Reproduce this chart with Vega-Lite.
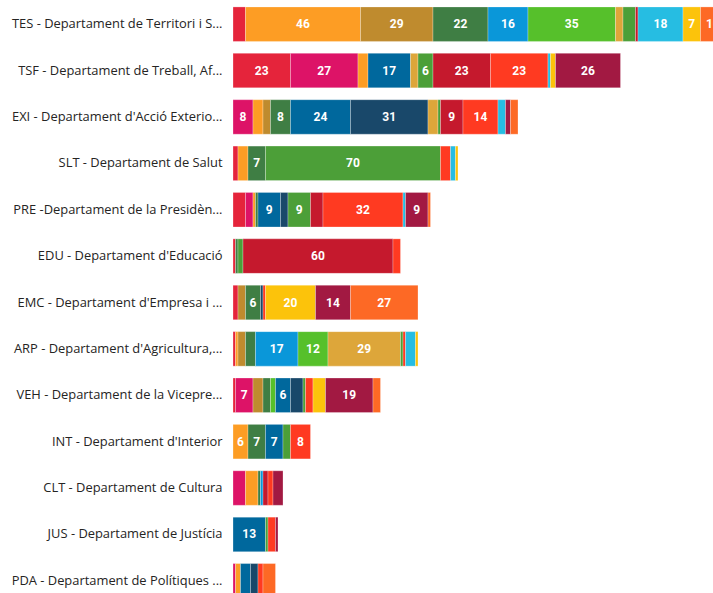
{
  "$schema": "https://vega.github.io/schema/vega-lite/v6.json",
  "autosize": "none",
  "padding": {"left": 233, "top": 1, "right": 0, "bottom": 0},
  "width": 480,
  "height": 603,
  "background": "white",
  "config": {"view": {"stroke": null}, "style": {"guide-label": {"ellipsis": "..."}}},
  "data": {"values": [
    {"dept": "TES - Departament de Territori i Sostenibilitat", "ods": "ODS 1", "n": 5},
    {"dept": "TES - Departament de Territori i Sostenibilitat", "ods": "ODS 11", "n": 46},
    {"dept": "TES - Departament de Territori i Sostenibilitat", "ods": "ODS 12", "n": 29},
    {"dept": "TES - Departament de Territori i Sostenibilitat", "ods": "ODS 13", "n": 22},
    {"dept": "TES - Departament de Territori i Sostenibilitat", "ods": "ODS 14", "n": 16},
    {"dept": "TES - Departament de Territori i Sostenibilitat", "ods": "ODS 15", "n": 35},
    {"dept": "TES - Departament de Territori i Sostenibilitat", "ods": "ODS 2", "n": 3},
    {"dept": "TES - Departament de Territori i Sostenibilitat", "ods": "ODS 3", "n": 5},
    {"dept": "TES - Departament de Territori i Sostenibilitat", "ods": "ODS 4", "n": 1},
    {"dept": "TES - Departament de Territori i Sostenibilitat", "ods": "ODS 6", "n": 18},
    {"dept": "TES - Departament de Territori i Sostenibilitat", "ods": "ODS 7", "n": 7},
    {"dept": "TES - Departament de Territori i Sostenibilitat", "ods": "ODS 9", "n": 10},

    {"dept": "TSF - Departament de Treball, Afers Socials i Famílies", "ods": "ODS 1", "n": 23},
    {"dept": "TSF - Departament de Treball, Afers Socials i Famílies", "ods": "ODS 10", "n": 27},
    {"dept": "TSF - Departament de Treball, Afers Socials i Famílies", "ods": "ODS 11", "n": 4},
    {"dept": "TSF - Departament de Treball, Afers Socials i Famílies", "ods": "ODS 16", "n": 17},
    {"dept": "TSF - Departament de Treball, Afers Socials i Famílies", "ods": "ODS 2", "n": 3},
    {"dept": "TSF - Departament de Treball, Afers Socials i Famílies", "ods": "ODS 3", "n": 6},
    {"dept": "TSF - Departament de Treball, Afers Socials i Famílies", "ods": "ODS 4", "n": 23},
    {"dept": "TSF - Departament de Treball, Afers Socials i Famílies", "ods": "ODS 5", "n": 23},
    {"dept": "TSF - Departament de Treball, Afers Socials i Famílies", "ods": "ODS 6", "n": 1},
    {"dept": "TSF - Departament de Treball, Afers Socials i Famílies", "ods": "ODS 7", "n": 2},
    {"dept": "TSF - Departament de Treball, Afers Socials i Famílies", "ods": "ODS 8", "n": 26},

    {"dept": "EXI - Departament d'Acció Exterior i Unió Europea", "ods": "ODS 10", "n": 8},
    {"dept": "EXI - Departament d'Acció Exterior i Unió Europea", "ods": "ODS 11", "n": 4},
    {"dept": "EXI - Departament d'Acció Exterior i Unió Europea", "ods": "ODS 12", "n": 3},
    {"dept": "EXI - Departament d'Acció Exterior i Unió Europea", "ods": "ODS 13", "n": 8},
    {"dept": "EXI - Departament d'Acció Exterior i Unió Europea", "ods": "ODS 16", "n": 24},
    {"dept": "EXI - Departament d'Acció Exterior i Unió Europea", "ods": "ODS 17", "n": 31},
    {"dept": "EXI - Departament d'Acció Exterior i Unió Europea", "ods": "ODS 2", "n": 4},
    {"dept": "EXI - Departament d'Acció Exterior i Unió Europea", "ods": "ODS 3", "n": 1},
    {"dept": "EXI - Departament d'Acció Exterior i Unió Europea", "ods": "ODS 4", "n": 9},
    {"dept": "EXI - Departament d'Acció Exterior i Unió Europea", "ods": "ODS 5", "n": 14},
    {"dept": "EXI - Departament d'Acció Exterior i Unió Europea", "ods": "ODS 6", "n": 3},
    {"dept": "EXI - Departament d'Acció Exterior i Unió Europea", "ods": "ODS 8", "n": 2},
    {"dept": "EXI - Departament d'Acció Exterior i Unió Europea", "ods": "ODS 9", "n": 3},

    {"dept": "SLT - Departament de Salut", "ods": "ODS 1", "n": 2},
    {"dept": "SLT - Departament de Salut", "ods": "ODS 11", "n": 4},
    {"dept": "SLT - Departament de Salut", "ods": "ODS 13", "n": 7},
    {"dept": "SLT - Departament de Salut", "ods": "ODS 3", "n": 70},
    {"dept": "SLT - Departament de Salut", "ods": "ODS 5", "n": 4},
    {"dept": "SLT - Departament de Salut", "ods": "ODS 6", "n": 2},
    {"dept": "SLT - Departament de Salut", "ods": "ODS 7", "n": 1},

    {"dept": "PRE -Departament de la Presidència", "ods": "ODS 1", "n": 5},
    {"dept": "PRE -Departament de la Presidència", "ods": "ODS 10", "n": 3},
    {"dept": "PRE -Departament de la Presidència", "ods": "ODS 11", "n": 1},
    {"dept": "PRE -Departament de la Presidència", "ods": "ODS 13", "n": 1},
    {"dept": "PRE -Departament de la Presidència", "ods": "ODS 16", "n": 9},
    {"dept": "PRE -Departament de la Presidència", "ods": "ODS 17", "n": 3},
    {"dept": "PRE -Departament de la Presidència", "ods": "ODS 3", "n": 9},
    {"dept": "PRE -Departament de la Presidència", "ods": "ODS 4", "n": 5},
    {"dept": "PRE -Departament de la Presidència", "ods": "ODS 5", "n": 32},
    {"dept": "PRE -Departament de la Presidència", "ods": "ODS 6", "n": 1},
    {"dept": "PRE -Departament de la Presidència", "ods": "ODS 8", "n": 9},
    {"dept": "PRE -Departament de la Presidència", "ods": "ODS 9", "n": 1},

    {"dept": "EDU - Departament d'Educació", "ods": "ODS 1", "n": 1},
    {"dept": "EDU - Departament d'Educació", "ods": "ODS 13", "n": 1},
    {"dept": "EDU - Departament d'Educació", "ods": "ODS 3", "n": 2},
    {"dept": "EDU - Departament d'Educació", "ods": "ODS 4", "n": 60},
    {"dept": "EDU - Departament d'Educació", "ods": "ODS 5", "n": 3},

    {"dept": "EMC - Departament d'Empresa i Coneixement", "ods": "ODS 1", "n": 2},
    {"dept": "EMC - Departament d'Empresa i Coneixement", "ods": "ODS 12", "n": 3},
    {"dept": "EMC - Departament d'Empresa i Coneixement", "ods": "ODS 13", "n": 6},
    {"dept": "EMC - Departament d'Empresa i Coneixement", "ods": "ODS 17", "n": 1},
    {"dept": "EMC - Departament d'Empresa i Coneixement", "ods": "ODS 5", "n": 1},
    {"dept": "EMC - Departament d'Empresa i Coneixement", "ods": "ODS 7", "n": 20},
    {"dept": "EMC - Departament d'Empresa i Coneixement", "ods": "ODS 8", "n": 14},
    {"dept": "EMC - Departament d'Empresa i Coneixement", "ods": "ODS 9", "n": 27},

    {"dept": "ARP - Departament d'Agricultura, Ramaderia, Pesca i Alimentació", "ods": "ODS 1", "n": 1},
    {"dept": "ARP - Departament d'Agricultura, Ramaderia, Pesca i Alimentació", "ods": "ODS 11", "n": 1},
    {"dept": "ARP - Departament d'Agricultura, Ramaderia, Pesca i Alimentació", "ods": "ODS 12", "n": 3},
    {"dept": "ARP - Departament d'Agricultura, Ramaderia, Pesca i Alimentació", "ods": "ODS 13", "n": 4},
    {"dept": "ARP - Departament d'Agricultura, Ramaderia, Pesca i Alimentació", "ods": "ODS 14", "n": 17},
    {"dept": "ARP - Departament d'Agricultura, Ramaderia, Pesca i Alimentació", "ods": "ODS 15", "n": 12},
    {"dept": "ARP - Departament d'Agricultura, Ramaderia, Pesca i Alimentació", "ods": "ODS 2", "n": 29},
    {"dept": "ARP - Departament d'Agricultura, Ramaderia, Pesca i Alimentació", "ods": "ODS 3", "n": 1},
    {"dept": "ARP - Departament d'Agricultura, Ramaderia, Pesca i Alimentació", "ods": "ODS 5", "n": 1},
    {"dept": "ARP - Departament d'Agricultura, Ramaderia, Pesca i Alimentació", "ods": "ODS 6", "n": 4},
    {"dept": "ARP - Departament d'Agricultura, Ramaderia, Pesca i Alimentació", "ods": "ODS 7", "n": 1},

    {"dept": "VEH - Departament de la Vicepresidència i d'Economia i Hisenda", "ods": "ODS 1", "n": 1},
    {"dept": "VEH - Departament de la Vicepresidència i d'Economia i Hisenda", "ods": "ODS 10", "n": 7},
    {"dept": "VEH - Departament de la Vicepresidència i d'Economia i Hisenda", "ods": "ODS 12", "n": 4},
    {"dept": "VEH - Departament de la Vicepresidència i d'Economia i Hisenda", "ods": "ODS 13", "n": 3},
    {"dept": "VEH - Departament de la Vicepresidència i d'Economia i Hisenda", "ods": "ODS 15", "n": 2},
    {"dept": "VEH - Departament de la Vicepresidència i d'Economia i Hisenda", "ods": "ODS 16", "n": 6},
    {"dept": "VEH - Departament de la Vicepresidència i d'Economia i Hisenda", "ods": "ODS 17", "n": 5},
    {"dept": "VEH - Departament de la Vicepresidència i d'Economia i Hisenda", "ods": "ODS 3", "n": 1},
    {"dept": "VEH - Departament de la Vicepresidència i d'Economia i Hisenda", "ods": "ODS 5", "n": 3},
    {"dept": "VEH - Departament de la Vicepresidència i d'Economia i Hisenda", "ods": "ODS 7", "n": 5},
    {"dept": "VEH - Departament de la Vicepresidència i d'Economia i Hisenda", "ods": "ODS 8", "n": 19},
    {"dept": "VEH - Departament de la Vicepresidència i d'Economia i Hisenda", "ods": "ODS 9", "n": 3},

    {"dept": "INT - Departament d'Interior", "ods": "ODS 11", "n": 6},
    {"dept": "INT - Departament d'Interior", "ods": "ODS 13", "n": 7},
    {"dept": "INT - Departament d'Interior", "ods": "ODS 16", "n": 7},
    {"dept": "INT - Departament d'Interior", "ods": "ODS 3", "n": 3},
    {"dept": "INT - Departament d'Interior", "ods": "ODS 5", "n": 8},

    {"dept": "CLT - Departament de Cultura", "ods": "ODS 10", "n": 5},
    {"dept": "CLT - Departament de Cultura", "ods": "ODS 11", "n": 5},
    {"dept": "CLT - Departament de Cultura", "ods": "ODS 13", "n": 1},
    {"dept": "CLT - Departament de Cultura", "ods": "ODS 14", "n": 1},
    {"dept": "CLT - Departament de Cultura", "ods": "ODS 4", "n": 2},
    {"dept": "CLT - Departament de Cultura", "ods": "ODS 5", "n": 2},
    {"dept": "CLT - Departament de Cultura", "ods": "ODS 8", "n": 4},

    {"dept": "JUS - Departament de Justícia", "ods": "ODS 16", "n": 13},
    {"dept": "JUS - Departament de Justícia", "ods": "ODS 3", "n": 1},
    {"dept": "JUS - Departament de Justícia", "ods": "ODS 5", "n": 3},
    {"dept": "JUS - Departament de Justícia", "ods": "ODS 8", "n": 1},

    {"dept": "PDA - Departament de Polítiques Digitals i Administració Pública", "ods": "ODS 10", "n": 1},
    {"dept": "PDA - Departament de Polítiques Digitals i Administració Pública", "ods": "ODS 11", "n": 2},
    {"dept": "PDA - Departament de Polítiques Digitals i Administració Pública", "ods": "ODS 16", "n": 4},
    {"dept": "PDA - Departament de Polítiques Digitals i Administració Pública", "ods": "ODS 17", "n": 3},
    {"dept": "PDA - Departament de Polítiques Digitals i Administració Pública", "ods": "ODS 5", "n": 2},
    {"dept": "PDA - Departament de Polítiques Digitals i Administració Pública", "ods": "ODS 9", "n": 5}
  ]},
  "transform": [
    {"stack": "n", "groupby": ["dept"], "sort": [{"field": "ods", "order": "ascending"}], "as": ["x0", "x1"]},
    {"calculate": "(datum.x0 + datum.x1) / 2", "as": "mid"}
  ],
  "encoding": {
    "y": {
      "field": "dept", "type": "nominal", "sort": null,
      "scale": {"paddingInner": 0.256, "paddingOuter": 0.128},
      "axis": {
        "title": null, "domain": false, "ticks": false, "labelPadding": 11,
        "labelFont": "Open Sans", "labelFontSize": 12.9, "labelColor": "#252423",
        "labelLimit": 211
      }
    }
  },
  "layer": [
    {
      "mark": {"type": "bar", "stroke": "white", "strokeWidth": 0.6, "strokeOpacity": 0.45},
      "encoding": {
        "x": {"field": "x0", "type": "quantitative", "scale": {"domain": [0, 192], "nice": false, "zero": true}, "axis": null},
        "x2": {"field": "x1"},
        "color": {
          "field": "ods", "type": "nominal", "legend": null,
          "scale": {
            "domain": ["ODS 1","ODS 2","ODS 3","ODS 4","ODS 5","ODS 6","ODS 7","ODS 8","ODS 9","ODS 10","ODS 11","ODS 12","ODS 13","ODS 14","ODS 15","ODS 16","ODS 17"],
            "range": ["#E5243B","#DDA63A","#4C9F38","#C5192D","#FF3A21","#26BDE2","#FCC30B","#A21942","#FD6925","#DD1367","#FD9D24","#BF8B2E","#3F7E44","#0A97D9","#56C02B","#00689D","#19486A"]
          }
        }
      }
    },
    {
      "transform": [{"filter": "datum.n >= 6"}],
      "mark": {"type": "text", "color": "white", "font": "Roboto", "fontWeight": "bold", "fontSize": 12, "align": "center", "baseline": "middle"},
      "encoding": {
        "x": {"field": "mid", "type": "quantitative"},
        "text": {"field": "n", "type": "quantitative"}
      }
    }
  ]
}
